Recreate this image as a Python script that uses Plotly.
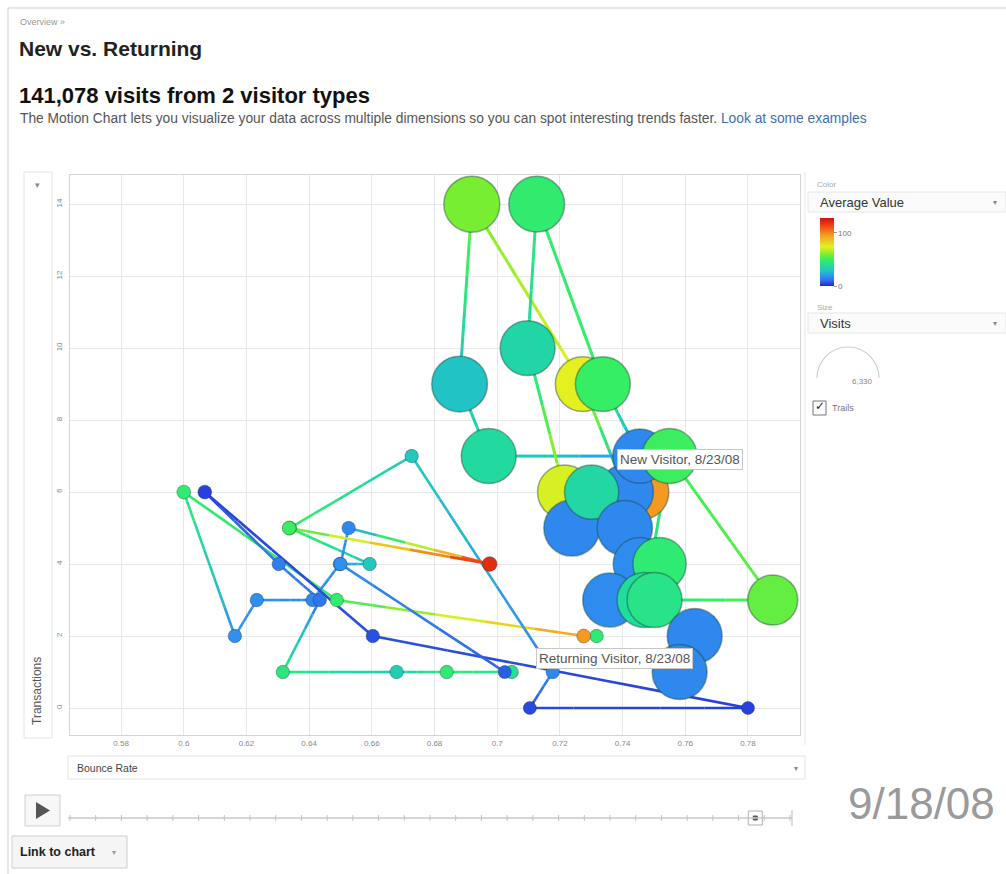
import plotly.graph_objects as go

# ---------------- data ----------------
CMIN, CMAX = 0, 128
COLORSCALE = [
    [0.00, '#2323d6'], [0.08, '#2e6fe8'], [0.14, '#2f90f0'], [0.22, '#22c4c4'],
    [0.30, '#22dd99'], [0.38, '#33ee66'], [0.46, '#77ee33'], [0.58, '#e6f020'],
    [0.75, '#f59a20'], [0.90, '#ee3b14'], [1.00, '#d81010'],
]

new_bounce = [0.7460, 0.7410, 0.7273, 0.6919, 0.6880, 0.6973, 0.7455, 0.7337, 0.7126, 0.7097,
              0.7215, 0.7238, 0.7301, 0.7407, 0.7455, 0.7518, 0.7359, 0.7470, 0.7550, 0.7879,
              0.7502, 0.7630, 0.7582]
new_trans = [6, 6, 9, 14, 9, 7, 7, 9, 14, 10, 6, 5, 6, 5, 4, 4, 3, 3, 7, 3, 3, 2, 1]
new_avg = [96, 16, 74, 59, 28, 37, 16, 49, 47, 35, 72, 16, 36, 16, 17, 46, 17, 38, 50, 56, 42, 16, 16]
new_visits = [6200, 6250, 6200, 6330, 6300, 6200, 6100, 6200, 6300, 6200, 6100, 6330, 6100, 6250,
              6000, 6000, 6100, 6200, 6200, 5600, 6200, 6200, 6200]

ret_bounce = [0.7317, 0.7276, 0.6488, 0.6000, 0.6163, 0.6233, 0.6411, 0.6498, 0.6593, 0.6338,
              0.6727, 0.7177, 0.7104, 0.7800, 0.6603, 0.6067, 0.6303, 0.6434, 0.6316, 0.6679,
              0.6839, 0.7046, 0.7024, 0.6500, 0.6526, 0.6976, 0.6336]
ret_trans = [2, 2, 3, 6, 2, 3, 3, 4, 4, 5, 7, 1, 0, 0, 2, 6, 4, 3, 1, 1, 1, 1, 1, 4, 5, 4, 5]
ret_avg = [46, 96, 48, 46, 18, 18, 16, 18, 30, 50, 30, 16, 5, 4, 6, 4, 14, 12, 44, 32, 46, 40, 8,
           18, 16, 120, 50]
ret_visits = [1150, 1200, 1150, 1200, 1150, 1150, 1150, 1150, 1150, 1200, 1150, 1150, 1100, 1100,
              1150, 1200, 1150, 1150, 1150, 1150, 1150, 1150, 1100, 1150, 1150, 1300, 1200]

x_ticks = [0.58, 0.60, 0.62, 0.64, 0.66, 0.68, 0.70, 0.72, 0.74, 0.76, 0.78]
x_labels = ['0.58', '0.6', '0.62', '0.64', '0.66', '0.68', '0.7', '0.72', '0.74', '0.76', '0.78']
y_ticks = [0, 2, 4, 6, 8, 10, 12, 14]
MAX_VISITS = 6330
current_date = '9/18/08'
hover_date = '8/23/08'
timeline_ticks = 29
current_index = 27

# ---------------- helpers ----------------
W, H = 1006, 874
L, R, T, B = 70, 800, 175, 735
FONT = 'Arial, Liberation Sans, sans-serif'


def px(x):
    return (x - L) / (R - L)


def py(y):
    return (B - y) / (B - T)


def hex2rgb(h):
    h = h.lstrip('#')
    return tuple(int(h[i:i + 2], 16) for i in (0, 2, 4))


def cs_color(v):
    t = min(max((v - CMIN) / (CMAX - CMIN), 0), 1)
    for (p0, c0), (p1, c1) in zip(COLORSCALE[:-1], COLORSCALE[1:]):
        if t <= p1:
            f = (t - p0) / (p1 - p0) if p1 > p0 else 0
            a, b = hex2rgb(c0), hex2rgb(c1)
            return 'rgb(%d,%d,%d)' % tuple(round(a[i] + (b[i] - a[i]) * f) for i in range(3))
    return COLORSCALE[-1][1]


def diam(v):
    return 4 + 52 * v / MAX_VISITS


fig = go.Figure()

NSUB = 5


def add_trail(xs, ys, vs, width):
    for i in range(len(xs) - 1):
        x0, x1, y0, y1, v0, v1 = xs[i], xs[i + 1], ys[i], ys[i + 1], vs[i], vs[i + 1]
        for k in range(NSUB):
            f0, f1 = k / NSUB, (k + 1) / NSUB
            fm = (f0 + f1) / 2
            fig.add_trace(go.Scatter(
                x=[x0 + (x1 - x0) * f0, x0 + (x1 - x0) * f1],
                y=[y0 + (y1 - y0) * f0, y0 + (y1 - y0) * f1],
                mode='lines', line=dict(color=cs_color(v0 + (v1 - v0) * fm), width=width),
                hoverinfo='skip', showlegend=False))


add_trail(ret_bounce, ret_trans, ret_avg, 2.6)
add_trail(new_bounce, new_trans, new_avg, 3)

fig.add_trace(go.Scatter(
    x=ret_bounce, y=ret_trans, mode='markers', name='Returning Visitor', showlegend=False,
    marker=dict(size=[diam(v) for v in ret_visits], color=ret_avg, colorscale=COLORSCALE,
                cmin=CMIN, cmax=CMAX, opacity=1,
                line=dict(color='rgba(20,40,60,0.35)', width=1),
                showscale=True,
                colorbar=dict(x=px(820), xanchor='left', y=py(252), yanchor='middle',
                              lenmode='pixels', len=68, thicknessmode='pixels', thickness=14,
                              outlinewidth=0, tickvals=[0, 100], ticktext=['0', '100'],
                              tickfont=dict(size=8, color='#777', family=FONT),
                              ticks='outside', ticklen=3, tickcolor='#999',
                              xpad=0, ypad=0))))

fig.add_trace(go.Scatter(
    x=new_bounce, y=new_trans, mode='markers', name='New Visitor', showlegend=False,
    marker=dict(size=[diam(v) for v in new_visits], color=new_avg, colorscale=COLORSCALE,
                cmin=CMIN, cmax=CMAX, opacity=1,
                line=dict(color='rgba(30,70,60,0.45)', width=1.5))))

# ---------------- decorations ----------------
shapes = []
ann = []


def rect(x0, y0, x1, y1, line='#dcdcdc', fill='rgba(0,0,0,0)', w=1):
    shapes.append(dict(type='rect', xref='paper', yref='paper', x0=px(x0), x1=px(x1),
                       y0=py(y1), y1=py(y0), line=dict(color=line, width=w), fillcolor=fill,
                       layer='below'))


def hline(x0, x1, y, color='#d0d0d0', w=1):
    shapes.append(dict(type='line', xref='paper', yref='paper', x0=px(x0), x1=px(x1),
                       y0=py(y), y1=py(y), line=dict(color=color, width=w)))


def vline(x, y0, y1, color='#d0d0d0', w=1):
    shapes.append(dict(type='line', xref='paper', yref='paper', x0=px(x), x1=px(x),
                       y0=py(y0), y1=py(y1), line=dict(color=color, width=w)))


def text(x, y, s, size=11, color='#333', anchor='left', bold=False, angle=0, family=FONT, **kw):
    if bold:
        s = '<b>' + s + '</b>'
    ann.append(dict(xref='paper', yref='paper', x=px(x), y=py(y), text=s, showarrow=False,
                    xanchor=anchor, yanchor='middle', textangle=angle,
                    font=dict(size=size, color=color, family=family), **kw))


# page borders
hline(8, 1006, 8, '#cfcfcf')
vline(8, 8, 874, '#cfcfcf')

# header
text(18, 22, 'Overview »', 9, '#999')
text(17, 49, 'New vs. Returning', 21, '#222', bold=True)
text(17, 95, '141,078 visits from 2 visitor types', 22, '#111', bold=True)
text(18, 119, 'The Motion Chart lets you visualize your data across multiple dimensions so you '
     'can spot interesting trends faster. <span style="color:#3d6fb0">Look at some examples</span>',
     13.8, '#555')

# y-axis selector column
rect(24, 172, 52, 738, '#e4e4e4')
text(37, 185, '▾', 9, '#888', anchor='center', family='DejaVu Sans')
text(37, 691, 'Transactions', 12, '#555', anchor='center', angle=-90)

# x-axis selector
rect(68, 756, 805, 779, '#e2e2e2')
text(75, 768, 'Bounce Rate', 10.5, '#444')
text(796, 768, '▾', 8, '#888', anchor='center', family='DejaVu Sans')

# right panel
vline(805, 172, 745, '#e6e6e6')
text(815, 184, 'Color', 8, '#aaa')
rect(808, 192, 1006, 212, '#e6e6e6', '#fbfbfb')
text(818, 202, 'Average Value', 13, '#333')
text(995, 202, '▾', 8, '#888', anchor='center', family='DejaVu Sans')
text(815, 307, 'Size', 8, '#aaa')
rect(808, 313, 1006, 333, '#e6e6e6', '#fbfbfb')
text(818, 323, 'Visits', 13, '#333')
text(995, 323, '▾', 8, '#888', anchor='center', family='DejaVu Sans')

# size arc (semicircle, cubic approximation)
cx, cy, r = 848, 378, 31
k = 0.5523 * r
path = ('M {} {} C {} {} {} {} {} {} C {} {} {} {} {} {}').format(
    px(cx - r), py(cy),
    px(cx - r), py(cy - k), px(cx - k), py(cy - r), px(cx), py(cy - r),
    px(cx + k), py(cy - r), px(cx + r), py(cy - k), px(cx + r), py(cy))
shapes.append(dict(type='path', xref='paper', yref='paper', path=path,
                   line=dict(color='#cfcfcf', width=1.2)))
text(862, 381, '{:,}'.format(MAX_VISITS), 8, '#888', anchor='center')

# trails checkbox
rect(813, 401, 826, 415, '#777', '#ffffff')
text(820, 406, '✓', 12, '#222', anchor='center', family='DejaVu Sans')
text(830, 408, 'Trails', 9, '#777')

# play button
rect(25, 795, 60, 826, '#cfcfcf', '#f7f7f7')
shapes.append(dict(type='path', xref='paper', yref='paper',
                   path='M {} {} L {} {} L {} {} Z'.format(px(36), py(802), px(36), py(819),
                                                           px(50), py(810.5)),
                   fillcolor='#555', line=dict(color='#555', width=0)))

# timeline slider
hline(68, 792, 818, '#c8c8c8', 1.5)
step = (790 - 70) / (timeline_ticks - 1)
for i in range(timeline_ticks):
    xx = 70 + i * step
    vline(xx, 815, 821, '#c0c0c0', 1)
vline(792, 810, 826, '#bdbdbd', 1)
tx = 70 + current_index * step - 9
rect(tx - 7, 811, tx + 7, 825, '#b0b0b0', '#fdfdfd')
rect(tx - 2, 816, tx + 2, 820, '#555', '#555')

# date label
text(921, 803, current_date, 44, '#9a9a9a', anchor='center')

# link to chart button
rect(12, 836, 127, 868, '#cfcfcf', '#f5f5f5')
text(18, 852, 'Link to chart', 12.5, '#222', bold=True)
text(114, 852, '▾', 8, '#999', anchor='center', family='DejaVu Sans')

# tooltips
for label, cxp, cyp in [('New Visitor, ', 680, 459), ('Returning Visitor, ', 614, 658)]:
    ann.append(dict(xref='paper', yref='paper', x=px(cxp), y=py(cyp),
                    text=label + hover_date, showarrow=False,
                    xanchor='center', yanchor='middle',
                    font=dict(size=13.5, color='#555', family=FONT),
                    bgcolor='white', bordercolor='#c8c8c8', borderwidth=1, borderpad=2))

fig.update_layout(
    width=W, height=H,
    margin=dict(l=L, r=W - R, t=T, b=H - B, autoexpand=False),
    paper_bgcolor='white', plot_bgcolor='white',
    font=dict(family=FONT),
    showlegend=False,
    hovermode=False,
    xaxis=dict(range=[0.5637, 0.7966], tickvals=x_ticks, ticktext=x_labels,
               showgrid=True, gridcolor='#e8e8e8', gridwidth=1, zeroline=False,
               showline=True, linecolor='#d4d4d4', mirror=True, ticks='',
               tickfont=dict(size=8, color='#888')),
    yaxis=dict(range=[-0.75, 14.81], tickvals=y_ticks, showgrid=True, gridcolor='#e8e8e8',
               gridwidth=1, zeroline=False, showline=True, linecolor='#d4d4d4', mirror=True,
               ticks='', tickangle=-90, tickfont=dict(size=8, color='#888'),
               ticklabelstandoff=4),
    shapes=shapes, annotations=ann,
)

fig.write_html('out.html', config={'displayModeBar': False},
               post_script="document.body.style.margin='0px';")
